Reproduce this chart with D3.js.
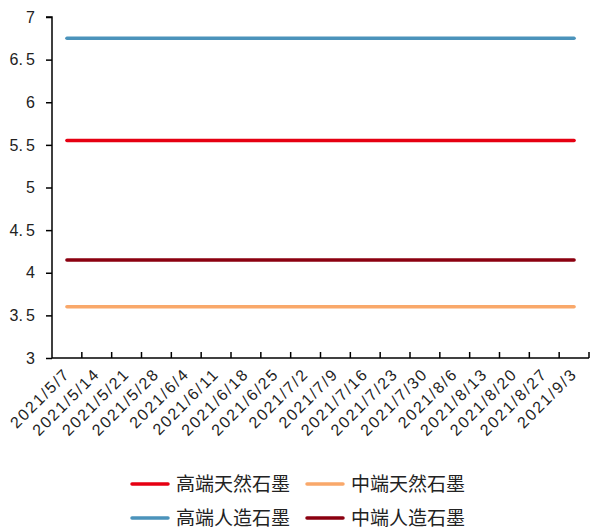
<!DOCTYPE html>
<html><head><meta charset="utf-8">
<script src="https://cdn.jsdelivr.net/npm/d3@7"></script>
<style>body{margin:0;background:#fff;}svg{display:block;}</style>
</head><body><svg id="c" width="593" height="532"></svg>
<script>
const dates = ["2021/5/7","2021/5/14","2021/5/21","2021/5/28","2021/6/4","2021/6/11","2021/6/18","2021/6/25","2021/7/2","2021/7/9","2021/7/16","2021/7/23","2021/7/30","2021/8/6","2021/8/13","2021/8/20","2021/8/27","2021/9/3"];
const seriesNames = ["高端天然石墨","中端天然石墨","高端人造石墨","中端人造石墨"];
const highNatural = dates.map(() => 5.55);
const midNatural = dates.map(() => 3.6);
const highArtificial = dates.map(() => 6.75);
const midArtificial = dates.map(() => 4.15);
const yTicks = [3,3.5,4,4.5,5,5.5,6,6.5,7];
const colors = ["#e60012","#f9a86a","#4b93bb","#8b0010"];
const series = [highNatural, midNatural, highArtificial, midArtificial];

const svg = d3.select("#c");
const font = "'Noto Sans CJK SC', sans-serif";
const x = d3.scaleBand().domain(dates).range([52, 589]);
const y = d3.scaleLinear().domain([3,7]).range([358, 17]);

// y axis
const ya = svg.append("g").attr("transform","translate(52,0)")
  .call(d3.axisLeft(y).tickValues(yTicks).tickSize(6).tickPadding(11).tickFormat(d => d===Math.round(d) ? String(d) : d3.format(".1f")(d).replace(".", ".\u2009")));
ya.select(".domain").attr("stroke","#000").attr("stroke-width",1.5).attr("d","M-6,17H0V358");
ya.selectAll(".tick line").attr("stroke","#000").attr("stroke-width",1.5);
ya.selectAll(".tick text").attr("font-family","'Liberation Sans', Arial, sans-serif").attr("font-size",16).attr("fill","#222");

// x axis
const xa = svg.append("g").attr("transform","translate(0,358)");
xa.append("line").attr("x1",52).attr("x2",589).attr("y1",0).attr("y2",0).attr("stroke","#000").attr("stroke-width",1.5);
dates.forEach((d,i) => {
  const xp = x(d) + x.bandwidth();
  xa.append("line").attr("x1",xp).attr("x2",xp).attr("y1",0).attr("y2",-6).attr("stroke","#000").attr("stroke-width",1.5);
});
dates.forEach(d => {
  const cx = x(d) + x.bandwidth()/2 + 4;
  xa.append("text").attr("transform",`translate(${cx},17) rotate(-45)`)
    .attr("text-anchor","end").attr("font-family","'Liberation Sans', Arial, sans-serif").attr("font-size",16)
    .attr("letter-spacing",1.8).attr("fill","#222").text(d);
});

// lines
const line = d3.line().x((v,i) => x(dates[i]) + x.bandwidth()/2).y(v => y(v));
series.forEach((s,k) => {
  svg.append("path").datum(s).attr("d", line).attr("fill","none")
    .attr("stroke", colors[k]).attr("stroke-width",3.5).attr("stroke-linecap","round");
});

// legend
const legPos = [[132,484],[307,484],[132,518],[307,518]];
seriesNames.forEach((n,k) => {
  const [lx,ly] = legPos[k];
  svg.append("line").attr("x1",lx).attr("x2",lx+36).attr("y1",ly).attr("y2",ly)
    .attr("stroke",colors[k]).attr("stroke-width",3.5).attr("stroke-linecap","round");
  svg.append("text").attr("x",lx+44).attr("y",ly+7).attr("font-family",font).attr("font-size",19).attr("fill","#222").text(n);
});
</script></body></html>
